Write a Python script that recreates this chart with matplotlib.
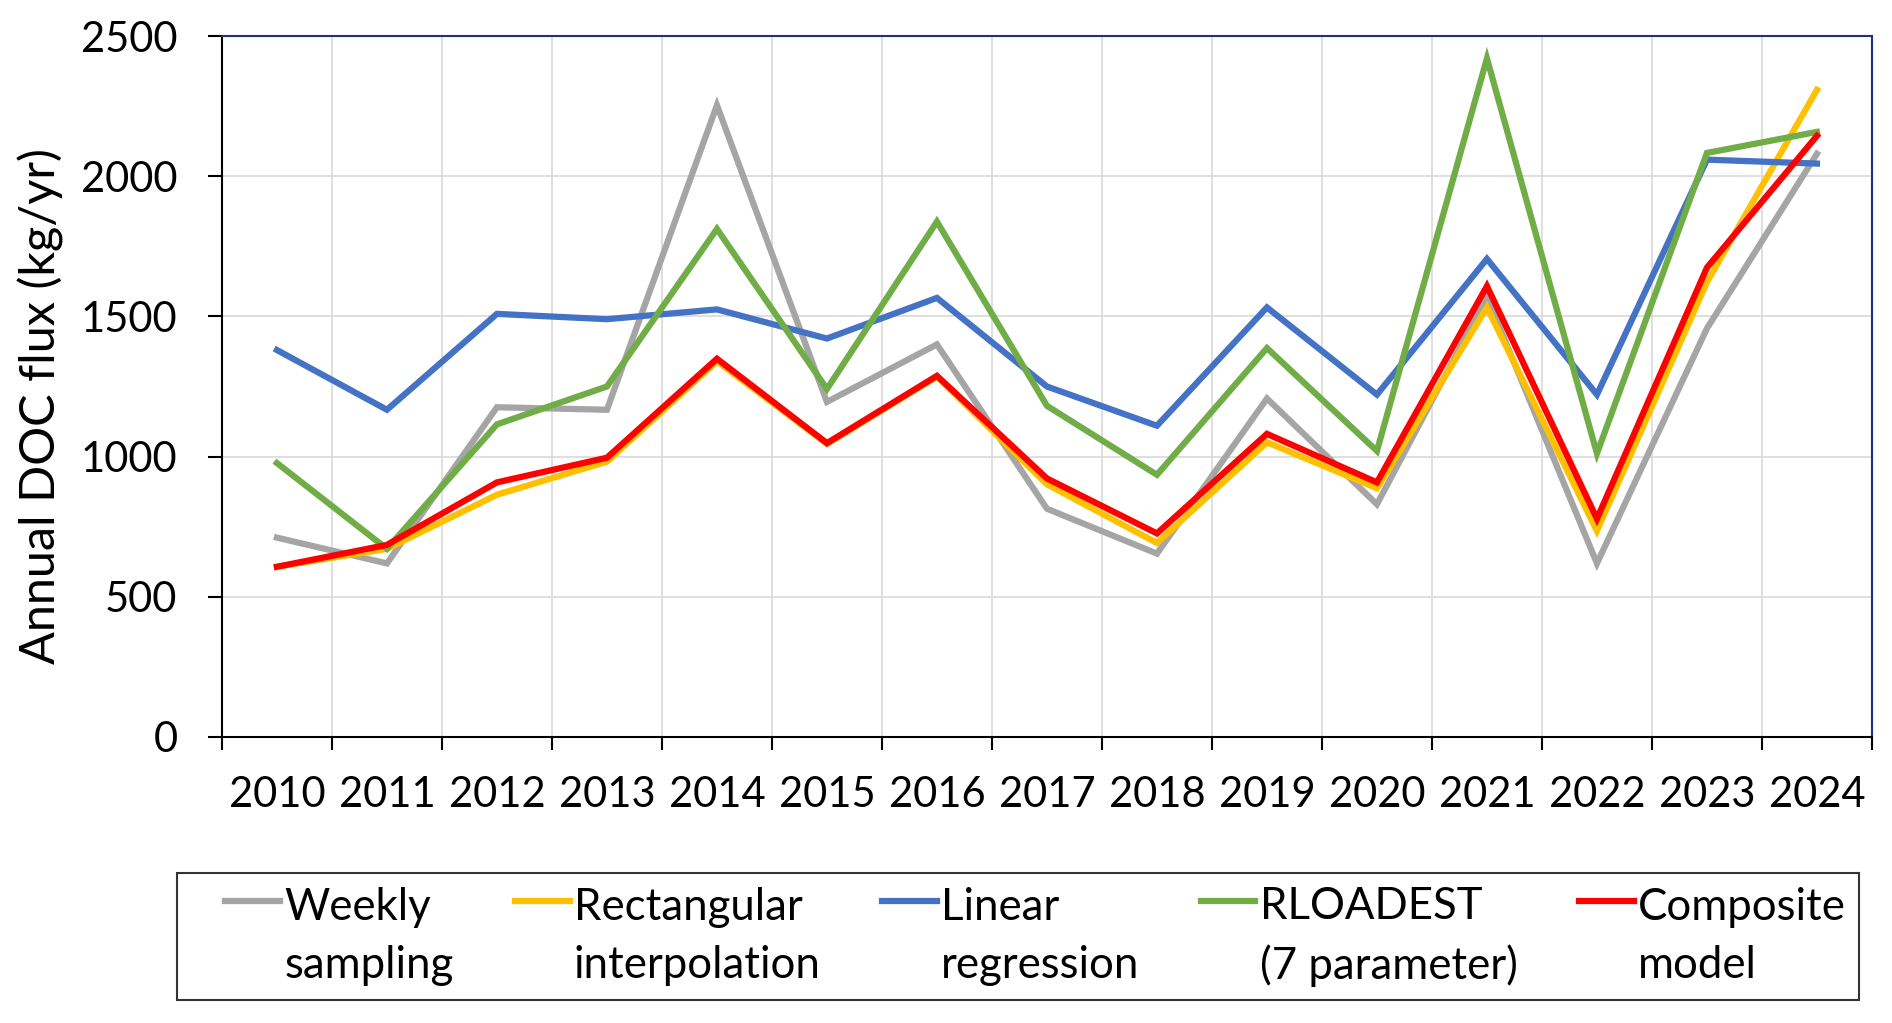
import matplotlib.pyplot as plt
import numpy as np
from matplotlib.legend_handler import HandlerLine2D

years = [2010, 2011, 2012, 2013, 2014, 2015, 2016, 2017, 2018, 2019,
         2020, 2021, 2022, 2023, 2024]
weekly = [711, 619, 1176, 1167, 2253, 1195, 1400, 814, 654, 1207,
          830, 1570, 619, 1457, 2080]
rectangular = [607, 671, 864, 982, 1340, 1045, 1285, 901, 692, 1051,
               887, 1532, 735, 1622, 2308]
linear = [1380, 1167, 1509, 1490, 1525, 1421, 1566, 1250, 1110, 1532,
          1221, 1705, 1221, 2059, 2045]
rloadest = [977, 671, 1115, 1250, 1812, 1241, 1838, 1181, 935, 1387,
            1020, 2420, 1011, 2083, 2158]
composite = [607, 685, 908, 996, 1349, 1048, 1288, 922, 726, 1081,
             908, 1608, 778, 1674, 2144]

series_labels = ["Weekly\nsampling", "Rectangular\ninterpolation",
                 "Linear\nregression", "RLOADEST\n(7 parameter)",
                 "Composite\nmodel"]
series_colors = ["#A5A5A5", "#FFC000", "#4472C4", "#70AD47", "#FF0000"]

plt.rcParams['font.family'] = ['Lato', 'DejaVu Sans']
FS = 30
LEG_FS = 31.5


class TopLineHandler(HandlerLine2D):
    # line sits next to the first text line (Excel style) and leaves a
    # blank gap on its left side
    def create_artists(self, legend, orig_handle, xdescent, ydescent,
                       width, height, fontsize, trans):
        artists = super().create_artists(legend, orig_handle, xdescent,
                                         ydescent, width, height,
                                         fontsize, trans)
        blank = 0.8 * fontsize
        for a in artists:
            xd = np.asarray(a.get_xdata(), dtype=float)
            a.set_xdata(np.linspace(xd[0] + blank, xd[-1], len(xd)))
            a.set_ydata(np.asarray(a.get_ydata()) + 0.85 * fontsize)
        return artists


fig = plt.figure(figsize=(18.92, 10.23), dpi=100)
ax = fig.add_axes([0.1173, 0.2796, 0.8721, 0.6852])

x = np.arange(len(years))
all_series = [weekly, rectangular, linear, rloadest, composite]
lines = []
for vals, lab, col in zip(all_series, series_labels, series_colors):
    ln, = ax.plot(x, vals, color=col, lw=4.5, label=lab,
                  solid_joinstyle='miter')
    lines.append(ln)

ax.set_xlim(-0.5, len(years) - 0.5)
ax.set_ylim(0, 2500)
ax.set_yticks(np.arange(0, 2501, 500))
ax.set_xticks(np.arange(-0.5, len(years), 1.0))
ax.set_xticklabels([])
ax.set_xticks(x, minor=True)
ax.set_xticklabels([str(y) for y in years], minor=True)

ax.tick_params(axis='x', which='major', direction='out', length=9.5,
               width=1.5, color='black')
ax.tick_params(axis='x', which='minor', length=0, pad=28, labelsize=FS)
ax.tick_params(axis='y', direction='out', length=10, width=1.5,
               pad=22, labelsize=FS)

ax.grid(True, which='major', color='#D9D9D9', lw=1.2)
ax.set_axisbelow(True)

for side in ['left', 'bottom']:
    ax.spines[side].set_color('black')
    ax.spines[side].set_linewidth(1.5)
for side in ['top', 'right']:
    ax.spines[side].set_color('#1F2E8A')
    ax.spines[side].set_linewidth(1.5)

ax.set_ylabel("Annual DOC flux (kg/yr)", fontsize=35)
ax.yaxis.set_label_coords(-0.096, 0.472)

leg = fig.legend(handles=lines, labels=series_labels, ncol=5,
                 loc='center', mode='expand',
                 bbox_to_anchor=(0.0936, 0.0205, 0.889, 0.128),
                 borderaxespad=0, fontsize=LEG_FS, frameon=True,
                 fancybox=False, edgecolor='black', handlelength=2.05,
                 handletextpad=0.1, borderpad=0.3,
                 handler_map={plt.Line2D: TopLineHandler()})
leg.get_frame().set_linewidth(1.5)
for t in leg.get_texts():
    t.set_linespacing(1.5)

plt.savefig("out.png", dpi=100)
print("Chart saved as 'out.png'.")
